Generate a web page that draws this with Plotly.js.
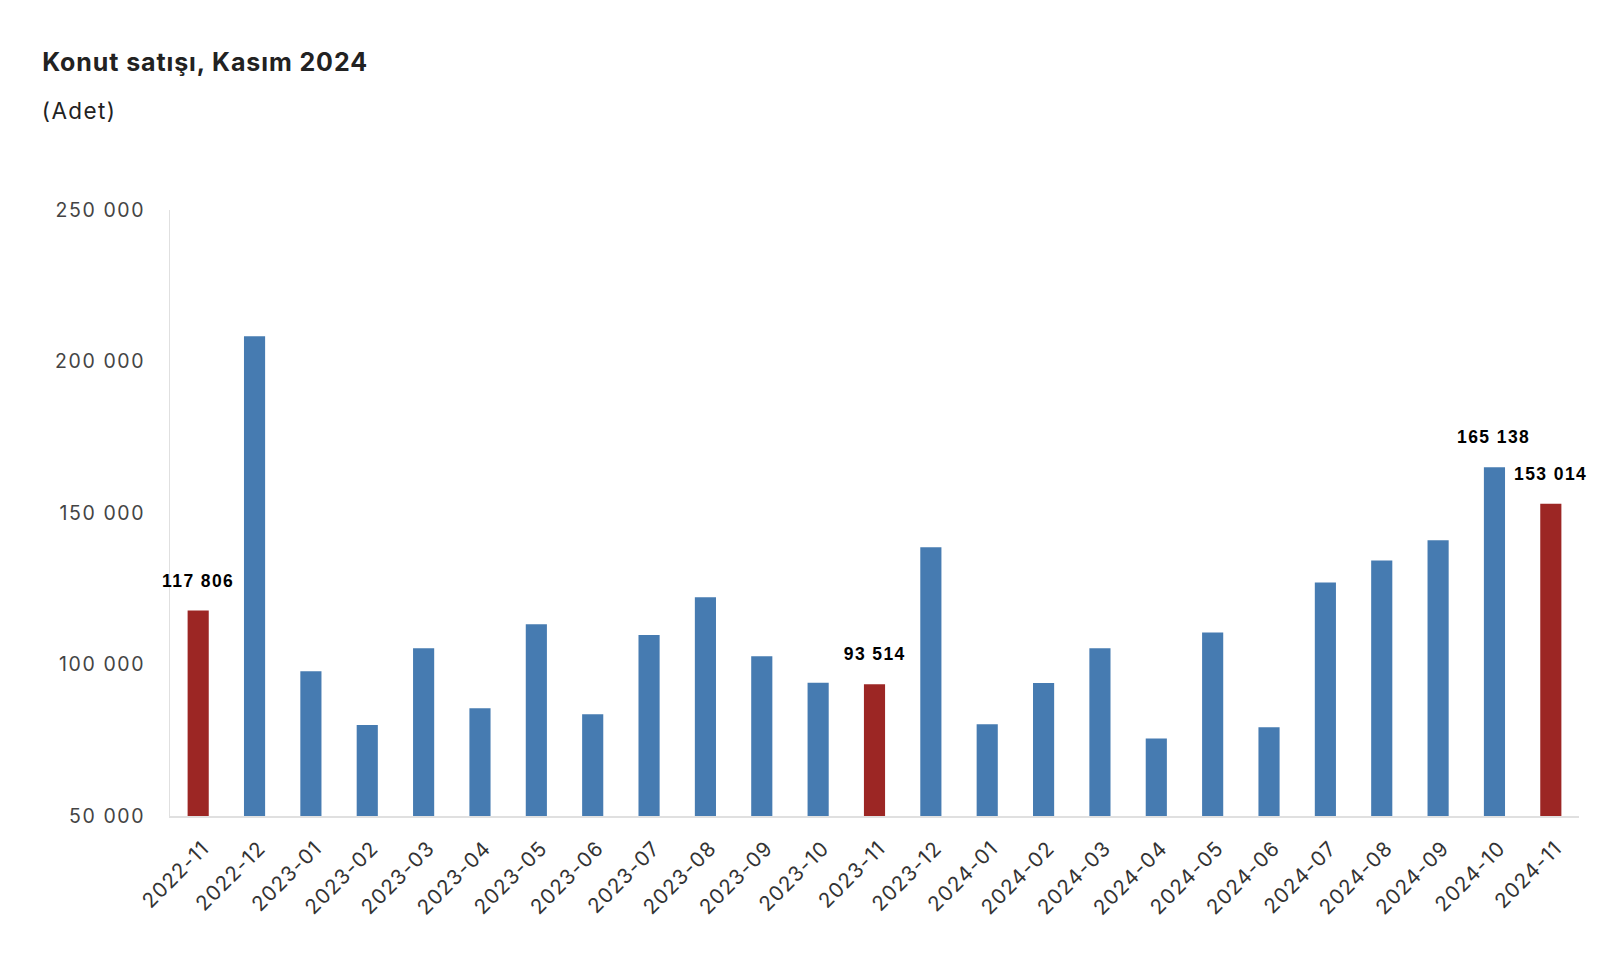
<!DOCTYPE html>
<html>
<head>
<meta charset="utf-8">
<script src="https://cdn.plot.ly/plotly-3.0.1.min.js"></script>
<style>
html,body{margin:0;padding:0;background:#fff;}
#chart{width:1624px;height:976px;}
#chart .ytick text{letter-spacing:1.6px;}
#chart .xtick text{letter-spacing:1.1px;}
#chart .gtitle{letter-spacing:0.9px;}
#chart .annotation-text{letter-spacing:1.4px;}
</style>
</head>
<body>
<div id="chart"></div>
<script>
const months = ["2022-11","2022-12","2023-01","2023-02","2023-03","2023-04","2023-05","2023-06","2023-07","2023-08","2023-09","2023-10","2023-11","2023-12","2024-01","2024-02","2024-03","2024-04","2024-05","2024-06","2024-07","2024-08","2024-09","2024-10","2024-11"];
const sales = [117806,208300,97800,80000,105400,85600,113300,83600,109700,122200,102700,94000,93514,138700,80300,93900,105400,75600,110600,79300,127100,134300,141000,165138,153014];
const highlighted = ["2022-11","2023-11","2024-11"];
const labelled = ["2022-11","2023-11","2024-10","2024-11"];
const yTicks = [50000,100000,150000,200000,250000];

const BLUE = "rgb(70,123,177)";
const RED = "rgb(156,38,36)";

function fmt(v){ return String(v).replace(/\B(?=(\d{3})+(?!\d))/g, " "); }

const colors = months.map(m => highlighted.includes(m) ? RED : BLUE);

const annotations = labelled.map(m => {
  const i = months.indexOf(m);
  return {
    x: m, y: sales[i], xref: "x", yref: "y",
    text: "<b>" + fmt(sales[i]) + "</b>",
    showarrow: false, yanchor: "bottom", yshift: 18,
    font: {family: "Liberation Sans, Arial, sans-serif", size: 17.5, color: "#000"}
  };
});

const data = [{
  type: "bar",
  x: months,
  y: sales,
  marker: {color: colors},
  width: 0.375,
  hoverinfo: "x+y"
}];

const layout = {
  width: 1624, height: 976,
  paper_bgcolor: "#fff", plot_bgcolor: "#fff",
  margin: {l: 170, r: 45, t: 210, b: 160},
  showlegend: false,
  title: {
    text: "<b>Konut satışı, Kasım 2024</b>",
    x: 0.026, xref: "container", xanchor: "left",
    y: 1 - 62/976, yref: "container", yanchor: "middle",
    font: {family: "Inter, sans-serif", size: 25, color: "#222"}
  },
  xaxis: {
    type: "category",
    range: [-0.5, 24.5],
    tickangle: -45,
    showline: true, linecolor: "#e0e0e0", linewidth: 2,
    showgrid: false, zeroline: false,
    ticks: "", ticklabelstandoff: 10, ticklabelshift: 5,
    tickfont: {family: "Inter, sans-serif", size: 20.5, color: "#333"},
    fixedrange: true
  },
  yaxis: {
    range: [50000, 250000],
    tickvals: yTicks,
    ticktext: yTicks.map(fmt),
    showline: true, linecolor: "#e0e0e0", linewidth: 1,
    showgrid: false, zeroline: false,
    ticks: "", ticklabelstandoff: 20,
    tickfont: {family: "Inter, sans-serif", size: 19.5, color: "#444"},
    fixedrange: true
  },
  annotations: annotations.concat([
    {xref: "paper", yref: "paper", x: -0.0894, y: 1.165, xanchor: "left", yanchor: "middle",
     text: "(Adet)", showarrow: false,
     font: {family: "Inter, sans-serif", size: 22.5, color: "#222"}}
  ])
};

Plotly.newPlot("chart", data, layout, {displayModeBar: false, staticPlot: true});
</script>
</body>
</html>
